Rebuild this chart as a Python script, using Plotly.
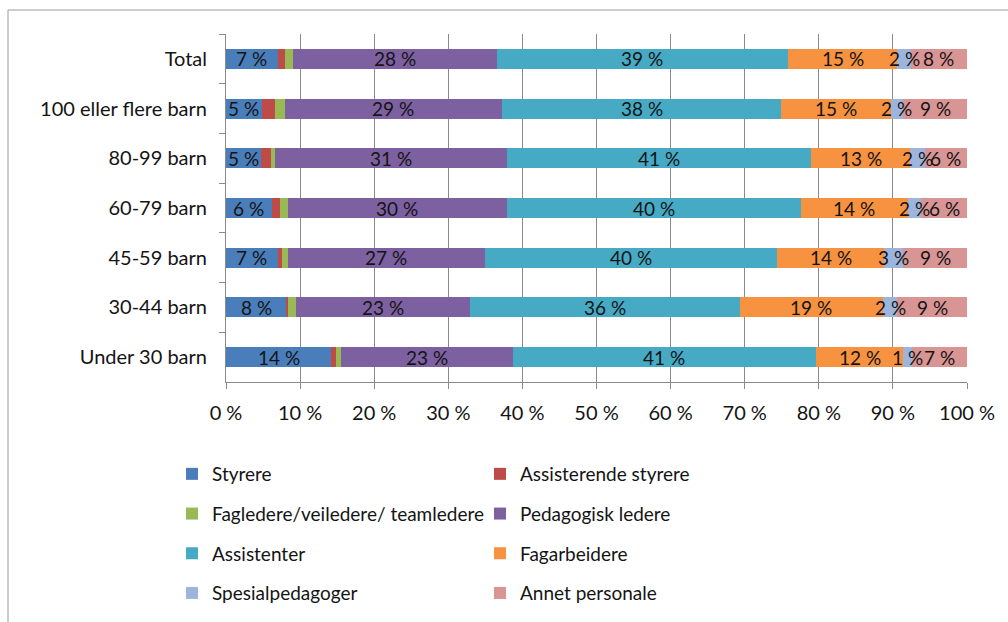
import plotly.graph_objects as go

categories = ["Total", "100 eller flere barn", "80-99 barn", "60-79 barn",
              "45-59 barn", "30-44 barn", "Under 30 barn"]

styrere        = [7.0, 4.8, 4.7, 6.2, 7.0, 8.2, 14.2]
assisterende   = [0.9, 1.8, 1.4, 1.1, 0.5, 0.2, 0.7]
fagledere      = [1.1, 1.3, 0.5, 1.0, 0.8, 1.1, 0.6]
pedagogisk     = [27.6, 29.4, 31.3, 29.6, 26.6, 23.4, 23.2]
assistenter    = [39.2, 37.6, 41.1, 39.7, 39.5, 36.4, 40.9]
fagarbeidere   = [14.8, 14.8, 13.3, 14.4, 14.4, 19.4, 11.8]
spesial        = [1.8, 1.7, 2.0, 1.8, 2.6, 1.9, 1.2]
annet          = [7.6, 8.6, 5.7, 6.2, 8.6, 9.4, 7.4]

x_ticks = [0, 10, 20, 30, 40, 50, 60, 70, 80, 90, 100]
x_tick_labels = [f"{t} %" for t in x_ticks]

series = [
    ("Styrere", styrere, "#4A7EBB", True, "legend"),
    ("Assisterende styrere", assisterende, "#BE4B48", False, "legend2"),
    ("Fagledere/veiledere/ teamledere", fagledere, "#98B954", False, "legend"),
    ("Pedagogisk ledere", pedagogisk, "#7D60A0", True, "legend2"),
    ("Assistenter", assistenter, "#46AAC5", True, "legend"),
    ("Fagarbeidere", fagarbeidere, "#F69240", True, "legend2"),
    ("Spesialpedagoger", spesial, "#9DB5DC", True, "legend"),
    ("Annet personale", annet, "#D99594", True, "legend2"),
]

FONT = "Lato"
TXT = "#141414"
fig = go.Figure()
annotations = []
cum = [0.0] * len(categories)
for name, vals, color, labeled, leg in series:
    fig.add_trace(go.Bar(
        y=categories, x=vals, name=name, orientation="h",
        marker=dict(color=color, line=dict(width=0)),
        legend=leg, legendgroup=name, hoverinfo="x+name",
    ))
    for i, v in enumerate(vals):
        if labeled:
            annotations.append(dict(
                x=cum[i] + v / 2, y=categories[i], xref="x", yref="y",
                text=f"{round(v)} %", showarrow=False, xanchor="center",
                yanchor="middle",
                font=dict(family=FONT, size=19, color=TXT),
            ))
        cum[i] += v

W, H = 1008, 622
L, R, T, B = 226, 41, 34, 240
pw, ph = W - L - R, H - T - B

def px_x(px):
    return (px - L) / pw

def px_y(py):
    return (H - B - py) / ph

legend_common = dict(
    orientation="v", yanchor="top", xanchor="left",
    font=dict(family=FONT, size=19, color=TXT),
    tracegroupgap=12, bgcolor="rgba(0,0,0,0)", itemclick=False,
)

fig.update_layout(
    width=W, height=H,
    margin=dict(l=L, r=R, t=T, b=B, autoexpand=False),
    barmode="stack", bargap=0.6,
    plot_bgcolor="white", paper_bgcolor="white",
    showlegend=True,
    legend=dict(x=px_x(172), y=px_y(455), **legend_common),
    legend2=dict(x=px_x(480), y=px_y(455), **legend_common),
    annotations=annotations,
    xaxis=dict(
        range=[0, 100], tickvals=x_ticks, ticktext=x_tick_labels,
        showgrid=True, gridcolor="#8a8a8a", gridwidth=1,
        showline=True, linecolor="#8a8a8a", linewidth=1,
        ticks="outside", ticklen=6, tickcolor="#8a8a8a",
        tickfont=dict(family=FONT, size=20, color=TXT),
        ticklabelstandoff=7, zeroline=False, fixedrange=True,
        automargin=False,
    ),
    yaxis=dict(
        autorange="reversed", type="category",
        showgrid=False, showline=True, linecolor="#8a8a8a", linewidth=1,
        ticks="outside", ticklen=6, tickcolor="#8a8a8a", tickson="boundaries",
        tickfont=dict(family=FONT, size=20, color=TXT),
        ticklabelstandoff=14, fixedrange=True, automargin=False,
    ),
    shapes=[dict(
        type="rect", xref="paper", yref="paper",
        x0=px_x(8), x1=px_x(1100), y0=px_y(700), y1=px_y(10),
        line=dict(color="#9a9a9a", width=1), fillcolor="rgba(0,0,0,0)",
        layer="below",
    )],
)

fig.write_html(
    "out.html",
    config={"displayModeBar": False},
    post_script="document.body.style.margin='0px';document.body.style.overflow='hidden';",
)
